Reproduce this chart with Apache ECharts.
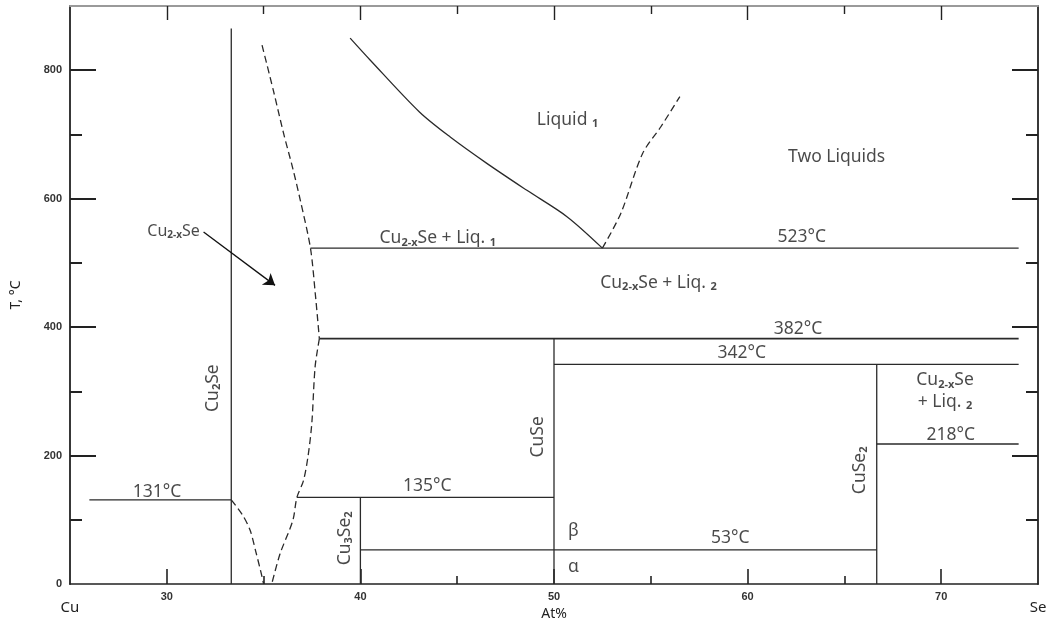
<!DOCTYPE html>
<html>
<head>
<meta charset="utf-8">
<title>Cu–Se phase diagram</title>
<script src="https://cdn.jsdelivr.net/npm/echarts@6/dist/echarts.min.js"></script>
<style>
  html, body { margin: 0; padding: 0; background: #fff; }
  #chart { width: 1048px; height: 621px; }
</style>
</head>
<body>
<div id="chart"></div>
<script>
// Axis ticks and labels
const xMajorTicks = [30, 40, 50, 60, 70];
const xMinorTicks = [35, 45, 55, 65];
const yMajorTicks = [200, 400, 600, 800];
const yMinorTicks = [100, 300, 500, 700];
const yTickLabels = [0, 200, 400, 600, 800];
const xEndLabels = { 25: 'Cu', 75: 'Se' };

// Phase boundaries [at% Se, T °C]
const cu2seLine   = [[33.33, 0], [33.33, 865]];
const iso131      = [[26.0, 131], [33.33, 131]];
const solvusLow   = [[33.33, 131], [33.9, 108], [34.3, 84], [34.6, 50], [34.85, 20], [35.0, 0]];
const solvusUpper = [[34.92, 839], [35.5, 769], [36.03, 702], [36.5, 648], [36.9, 597], [37.42, 523],
                     [37.67, 452], [37.88, 382]];
const solvusLower = [[37.88, 382], [37.66, 338], [37.49, 250], [37.3, 200], [37.06, 161],
                     [36.72, 135], [36.51, 99], [35.85, 47], [35.42, 0]];
const liquidus    = [[39.47, 850], [40.5, 816], [43.05, 735], [44.64, 696], [46.53, 655],
                     [48.6, 613], [50.67, 572], [52.5, 523]];
const miscibility = [[52.5, 523], [53.45, 577], [54.57, 670], [55.52, 712], [56.5, 759]];
const iso523      = [[37.42, 523], [74, 523]];
const iso382      = [[37.88, 382], [74, 382]];
const iso342      = [[50, 342], [74, 342]];
const iso218      = [[66.67, 218], [74, 218]];
const iso135      = [[36.72, 135], [50, 135]];
const iso53       = [[40, 53], [66.67, 53]];
const cuseLine    = [[50, 0], [50, 382]];
const cu3se2Line  = [[40, 0], [40, 135]];
const cuse2Line   = [[66.67, 0], [66.67, 342]];
const arrowPath   = [[31.9, 548], [35.59, 465]];

// Region and compound labels: [text, at% Se, T °C]
const phaseLabels = [
  ['131°C', 29.5, 144],
  ['{n|Cu}{s|2-x}{n|Se}', 30.35, 549, 'small'],
  ['{n|Cu}{s|2-x}{n|Se + Liq. }{s|1}', 44.0, 538],
  ['{n|Liquid }{s|1}', 50.7, 722],
  ['Two Liquids', 64.6, 665],
  ['523°C', 62.8, 540],
  ['{n|Cu}{s|2-x}{n|Se + Liq. }{s|2}', 55.4, 469],
  ['382°C', 62.6, 397],
  ['342°C', 59.7, 360],
  ['{n|Cu}{s|2-x}{n|Se}', 70.2, 317],
  ['{n|+ Liq. }{s|2}', 70.2, 283],
  ['218°C', 70.5, 232],
  ['53°C', 59.1, 71],
  ['135°C', 43.45, 152],
  ['β', 51.0, 83],
  ['α', 51.0, 26]
];
const compoundLabels = [
  ['{n|Cu}{s|2}{n|Se}', 32.39, 305],
  ['{n|CuSe}', 49.2, 229],
  ['{n|Cu}{s|3}{n|Se}{s|2}', 39.2, 71],
  ['{n|CuSe}{s|2}', 65.8, 177]
];

const FONT = '"Noto Sans", "Open Sans", sans-serif';
const TICK_FONT = '"Liberation Sans Narrow", "Liberation Sans", Arial, sans-serif';
const INK = '#1c1c1c';

const richStyles = (size) => ({
  n: { fontSize: size, fontFamily: FONT, color: INK },
  s: { fontSize: Math.round(size * 0.6), fontFamily: FONT, color: INK, fontWeight: 'bold', padding: [Math.round(size * 0.45), 0, 0, 0] }
});

function boundary(name, data, dashed, width, smooth) {
  return {
    name, type: 'line', data,
    xAxisIndex: 0, yAxisIndex: 0,
    symbol: 'none', silent: true, animation: false,
    smooth: smooth || false,
    lineStyle: { color: '#2a2a2a', width: width || 1.3, type: dashed ? [7, 4] : 'solid' },
    z: 3
  };
}

function labelSeries(name, items, rotate) {
  return {
    name, type: 'scatter', xAxisIndex: 0, yAxisIndex: 0,
    symbolSize: 0, silent: true, animation: false, z: 5,
    data: items.map(([text, x, y, size]) => {
      const fs = size === 'small' ? 16 : 17.5;
      return {
        value: [x, y],
        label: {
          show: true, position: 'inside', rotate: rotate || 0,
          formatter: text,
          fontSize: fs, fontFamily: FONT, color: INK,
          rich: richStyles(fs)
        }
      };
    })
  };
}

const baseX = { type: 'value', min: 25, max: 75, gridIndex: 0, splitLine: { show: false } };
const baseY = { type: 'value', min: 0, max: 900, gridIndex: 0, splitLine: { show: false } };
const tickLine = (w) => ({ lineStyle: { color: '#222', width: w } });
const noLine = { show: false, onZero: false };

const option = {
  animation: false,
  backgroundColor: '#fff',
  grid: { left: 70, right: 10, top: 6, bottom: 37, containLabel: false, outerBoundsMode: 'none' },
  xAxis: [
    Object.assign({}, baseX, {
      position: 'bottom',
      axisLine: { show: true, onZero: false, lineStyle: { color: '#222', width: 1.6 } },
      axisTick: Object.assign({ show: true, inside: true, length: 15, customValues: xMajorTicks }, tickLine(1.6)),
      axisLabel: { show: true, customValues: xMajorTicks, fontSize: 11, fontWeight: 'bold', fontFamily: TICK_FONT, color: '#333', margin: 7 },
      name: 'At%', nameLocation: 'middle', nameGap: 21,
      nameTextStyle: { fontSize: 14, fontFamily: FONT, color: '#222' }
    }),
    Object.assign({}, baseX, {
      position: 'bottom',
      axisLine: noLine,
      axisTick: Object.assign({ show: true, inside: true, length: 8, customValues: xMinorTicks }, tickLine(1.6)),
      axisLabel: { show: false }
    }),
    Object.assign({}, baseX, {
      position: 'bottom',
      axisLine: noLine,
      axisTick: { show: false },
      axisLabel: {
        show: true, customValues: [25, 75], margin: 16,
        formatter: (v) => xEndLabels[v] || '',
        fontSize: 15, fontFamily: FONT, color: '#222'
      }
    }),
    Object.assign({}, baseX, {
      position: 'top',
      axisLine: { show: true, onZero: false, lineStyle: { color: '#9a9a9a', width: 2 } },
      axisTick: Object.assign({ show: true, inside: true, length: 14, customValues: xMajorTicks }, tickLine(1.4)),
      axisLabel: { show: false }
    }),
    Object.assign({}, baseX, {
      position: 'top',
      axisLine: noLine,
      axisTick: Object.assign({ show: true, inside: true, length: 8, customValues: xMinorTicks }, tickLine(1.4)),
      axisLabel: { show: false }
    })
  ],
  yAxis: [
    Object.assign({}, baseY, {
      position: 'left',
      axisLine: { show: true, onZero: false, lineStyle: { color: '#222', width: 1.8 } },
      axisTick: Object.assign({ show: true, inside: true, length: 26, customValues: yMajorTicks }, tickLine(2)),
      axisLabel: { show: true, customValues: yTickLabels, fontSize: 11, fontWeight: 'bold', fontFamily: TICK_FONT, color: '#333', margin: 8 },
      name: 'T, °C', nameLocation: 'middle', nameGap: 47, nameRotate: 90,
      nameTextStyle: { fontSize: 14, fontFamily: FONT, color: '#222' }
    }),
    Object.assign({}, baseY, {
      position: 'left',
      axisLine: noLine,
      axisTick: Object.assign({ show: true, inside: true, length: 12, customValues: yMinorTicks }, tickLine(2)),
      axisLabel: { show: false }
    }),
    Object.assign({}, baseY, {
      position: 'right',
      axisLine: { show: true, onZero: false, lineStyle: { color: '#222', width: 1.8 } },
      axisTick: Object.assign({ show: true, inside: true, length: 26, customValues: yMajorTicks }, tickLine(2)),
      axisLabel: { show: false }
    }),
    Object.assign({}, baseY, {
      position: 'right',
      axisLine: noLine,
      axisTick: Object.assign({ show: true, inside: true, length: 12, customValues: yMinorTicks }, tickLine(2)),
      axisLabel: { show: false }
    })
  ],
  series: [
    boundary('Cu2Se', cu2seLine, false),
    boundary('131 °C', iso131, false),
    boundary('solvus low', solvusLow, true, 1.3, 0.3),
    boundary('solvus upper', solvusUpper, true, 1.3, 0.3),
    boundary('solvus lower', solvusLower, true, 1.3, 0.3),
    boundary('liquidus', liquidus, false, 1.3, 0.3),
    boundary('miscibility gap', miscibility, true, 1.3, 0.3),
    boundary('523 °C', iso523, false),
    boundary('382 °C', iso382, false, 1.8),
    boundary('342 °C', iso342, false),
    boundary('218 °C', iso218, false),
    boundary('135 °C', iso135, false),
    boundary('53 °C', iso53, false),
    boundary('CuSe', cuseLine, false),
    boundary('Cu3Se2', cu3se2Line, false),
    boundary('CuSe2', cuse2Line, false),
    {
      name: 'pointer', type: 'lines', coordinateSystem: 'cartesian2d',
      xAxisIndex: 0, yAxisIndex: 0, silent: true, animation: false,
      symbol: ['none', 'arrow'], symbolSize: 11,
      lineStyle: { color: '#111', width: 1.3, opacity: 1 },
      data: [{ coords: arrowPath }], z: 4
    },
    labelSeries('phase labels', phaseLabels, 0),
    labelSeries('compound labels', compoundLabels, 90)
  ]
};

const chart = echarts.init(document.getElementById('chart'), null, { renderer: 'canvas' });
chart.setOption(option);
</script>
</body>
</html>
